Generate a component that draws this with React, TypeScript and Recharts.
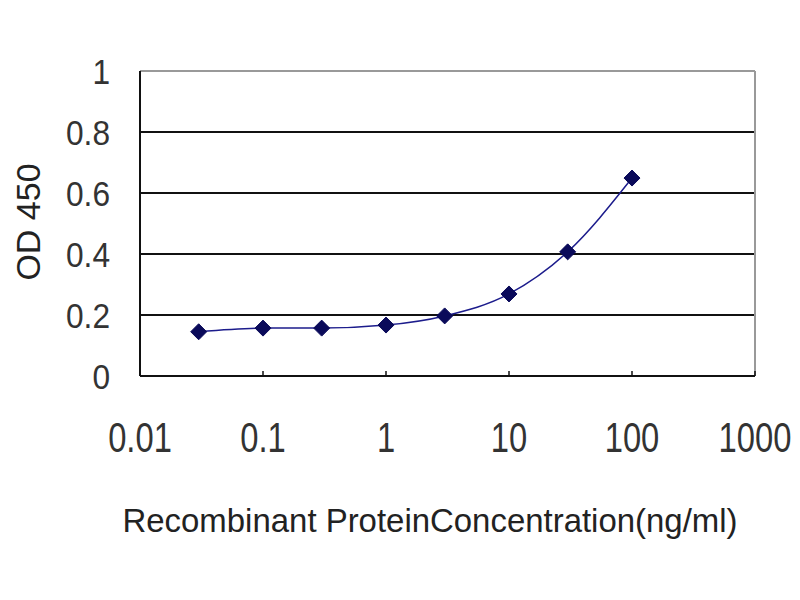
import { LineChart, Line, XAxis, YAxis, CartesianGrid, ReferenceLine, Label } from 'recharts';

// concentration (ng/ml) and OD 450 readings
const concentrations = [0.03, 0.1, 0.3, 1, 3, 10, 30, 100];
const odValues = [0.145, 0.157, 0.157, 0.167, 0.197, 0.269, 0.407, 0.649];
const xTicks = [0.01, 0.1, 1, 10, 100, 1000];
const yTicks = [0, 0.2, 0.4, 0.6, 0.8, 1];
const xTickLabels = ['0.01', '0.1', '1', '10', '100', '1000'];
const yTickLabels = ['0', '0.2', '0.4', '0.6', '0.8', '1'];

const data = concentrations.map((c, i) => ({ conc: c, od: odValues[i] }));

const FONT = 'Arial, "Liberation Sans", sans-serif';

const XTick = ({ x, y, payload }: any) => {
  const idx = xTicks.indexOf(payload.value);
  return (
    <g>
      <line x1={x} y1={y} x2={x} y2={y - 5} stroke="#111" strokeWidth={1.5} />
      <text
        transform={`translate(${x}, ${y + 76}) scale(0.78, 1)`}
        textAnchor="middle"
        fontSize={42}
        fontFamily={FONT}
        fill="#333"
      >
        {xTickLabels[idx] ?? payload.value}
      </text>
    </g>
  );
};

const YTick = ({ x, y, payload }: any) => {
  const idx = yTicks.indexOf(payload.value);
  return (
    <text
      transform={`translate(${x}, ${y + 13}) scale(0.88, 1)`}
      textAnchor="end"
      fontSize={36}
      fontFamily={FONT}
      fill="#333"
    >
      {yTickLabels[idx] ?? payload.value}
    </text>
  );
};

const Diamond = ({ cx, cy }: any) => {
  if (cx == null || cy == null) return null;
  const r = 8;
  return (
    <polygon
      points={`${cx},${cy - r} ${cx + r},${cy} ${cx},${cy + r} ${cx - r},${cy}`}
      fill="#0a0a5a"
      stroke="#0a0a5a"
    />
  );
};

export default function App() {
  return (
    <div style={{ position: 'absolute', left: 0, top: 0, width: 800, height: 600, background: '#fff' }}>
      <LineChart width={800} height={600} data={data} margin={{ top: 71, right: 45, left: 0, bottom: 0 }}>
        <CartesianGrid horizontal vertical={false} stroke="#111" strokeWidth={2} />
        <ReferenceLine y={1} stroke="#999" strokeWidth={2} />
        <ReferenceLine x={1000} stroke="#999" strokeWidth={2} />
        <XAxis
          dataKey="conc"
          type="number"
          scale="log"
          domain={[0.01, 1000]}
          ticks={xTicks}
          allowDataOverflow
          height={224}
          tickSize={0}
          tickMargin={0}
          tickLine={false}
          axisLine={{ stroke: '#111', strokeWidth: 2 }}
          tick={<XTick />}
          interval={0}
        >
          <Label
            content={({ viewBox }: any) => (
              <text
                x={viewBox.x + 290}
                y={viewBox.y + 156}
                textAnchor="middle"
                fontSize={34}
                fontFamily={FONT}
                fill="#222"
                textLength={615}
                lengthAdjust="spacingAndGlyphs"
              >
                Recombinant ProteinConcentration(ng/ml)
              </text>
            )}
          />
        </XAxis>
        <YAxis
          type="number"
          domain={[0, 1]}
          ticks={yTicks}
          width={140}
          tickSize={0}
          tickMargin={30}
          tickLine={false}
          axisLine={{ stroke: '#111', strokeWidth: 2 }}
          tick={<YTick />}
          interval={0}
        >
          <Label
            content={() => (
              <text
                x={40}
                y={222}
                transform="rotate(-90, 40, 222)"
                textAnchor="middle"
                fontSize={34}
                fontFamily={FONT}
                fill="#222"
              >
                OD 450
              </text>
            )}
          />
        </YAxis>
        <Line
          type="monotone"
          dataKey="od"
          stroke="#1c1c8c"
          strokeWidth={1.5}
          dot={<Diamond />}
          activeDot={false}
          isAnimationActive={false}
        />
      </LineChart>
    </div>
  );
}
